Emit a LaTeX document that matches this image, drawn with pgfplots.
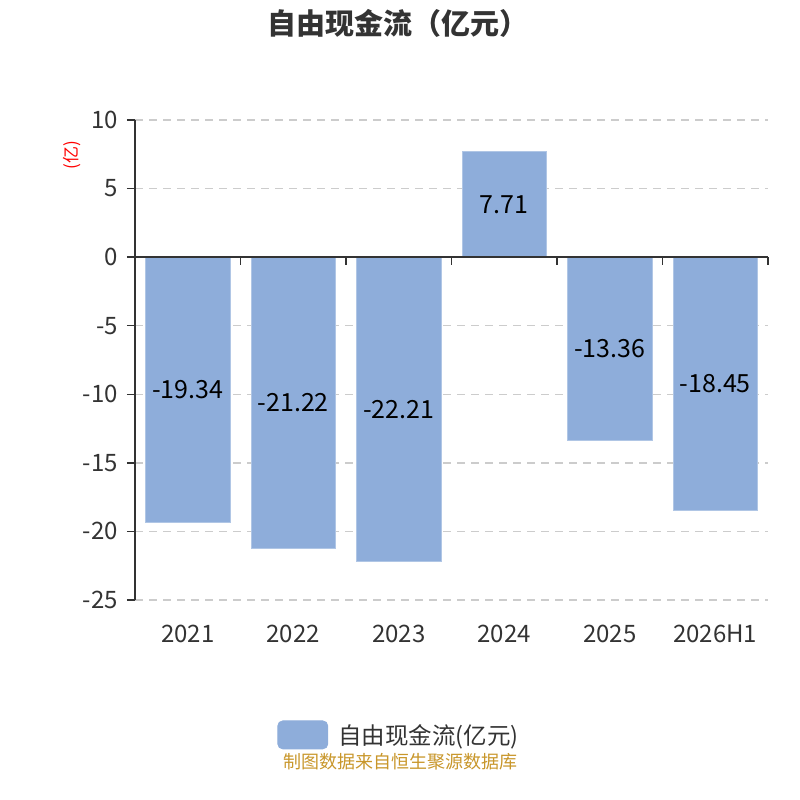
\documentclass[border=0pt]{standalone}
\usepackage{fontspec}
\setmainfont{Noto Sans CJK SC}
\usepackage{pgfplots}
\pgfplotsset{compat=1.18}
\usepackage{pgfplotstable}
\definecolor{barcol}{HTML}{8EADDA}
\definecolor{axiscol}{HTML}{333333}
\definecolor{ticktxt}{HTML}{333333}
\definecolor{gridcol}{HTML}{CCCCCC}
\definecolor{footcol}{HTML}{C8962A}
\pgfplotstableread{
x y mid lbl
0 -19.34 -9.67 -19.34
1 -21.22 -10.61 -21.22
2 -22.21 -11.105 -22.21
3 7.71 3.855 7.71
4 -13.36 -6.68 -13.36
5 -18.45 -9.225 -18.45
}\data
\begin{document}
\begin{tikzpicture}
\path[use as bounding box] (0bp,0bp) rectangle (800bp,800bp);
\node[font=\fontsize{29bp}{33bp}\selectfont\bfseries, text=ticktxt] at (398bp,777bp) {自由现金流（亿元）};
\node[font=\fontsize{17bp}{20bp}\selectfont, text=red, rotate=90] at (72bp,645bp) {(亿)};
\node[font=\fontsize{18bp}{22bp}\selectfont, text=footcol] at (400bp,38bp) {制图数据来自恒生聚源数据库};
\begin{axis}[
  at={(135bp,200bp)}, anchor=south west, scale only axis,
  width=633bp, height=480bp,
  xmin=-0.5, xmax=5.5, ymin=-25, ymax=10,
  clip=false,
  axis line style={draw=none},
  xtick={0,1,2,3,4,5},
  xticklabels={2021,2022,2023,2024,2025,2026H1},
  ytick={-25,-20,-15,-10,-5,0,5,10},
  yticklabels={-25,-20,-15,-10,-5,0,5,10},
  xtick style={draw=none},
  ytick style={draw=axiscol, line width=1.5bp},
  major tick length=8bp, tick align=outside,
  ytick pos=left, xtick pos=bottom,
  ymajorgrids, grid style={draw=gridcol, line width=1.4bp, dash pattern=on 8bp off 6bp},
  xticklabel style={font=\fontsize{24bp}{28bp}\selectfont, text=ticktxt, anchor=base, yshift=-34bp, inner sep=0pt},
  yticklabel style={font=\fontsize{24bp}{28bp}\selectfont, text=ticktxt, anchor=east, inner sep=0pt, xshift=-9bp},
  legend style={at={(0.417,-0.281)}, anchor=center, draw=none, fill=none,
    font=\fontsize{23.5bp}{28bp}\selectfont, text=ticktxt},
  legend image code/.code={\fill[barcol, rounded corners=5bp] (0bp,-14bp) rectangle (50bp,14bp);},
]
\addplot[ybar, bar width=0.8, bar shift=0pt, fill=barcol, draw=barcol!70!white, line width=0.8bp] table[x=x, y=y] {\data};
\addlegendentry{\hspace*{8bp}自由现金流(亿元)}
\addplot[draw=none, mark=none, forget plot, nodes near coords, point meta=explicit symbolic,
  every node near coord/.style={anchor=center, font=\fontsize{25bp}{30bp}\selectfont, text=black, inner sep=0pt}]
  table[x=x, y=mid, meta=lbl] {\data};
\draw[axiscol, line width=1.5bp] (axis cs:-0.5,-25) -- (axis cs:-0.5,10);
\draw[axiscol, line width=1.5bp] (axis cs:-0.5,0) -- (axis cs:5.5,0);
\draw[axiscol, line width=1.5bp] (axis cs:0.5,0) -- ++(0bp,-8bp);
\draw[axiscol, line width=1.5bp] (axis cs:1.5,0) -- ++(0bp,-8bp);
\draw[axiscol, line width=1.5bp] (axis cs:2.5,0) -- ++(0bp,-8bp);
\draw[axiscol, line width=1.5bp] (axis cs:3.5,0) -- ++(0bp,-8bp);
\draw[axiscol, line width=1.5bp] (axis cs:4.5,0) -- ++(0bp,-8bp);
\draw[axiscol, line width=1.5bp] (axis cs:5.5,0) -- ++(0bp,-8bp);
\end{axis}
\end{tikzpicture}
\end{document}
